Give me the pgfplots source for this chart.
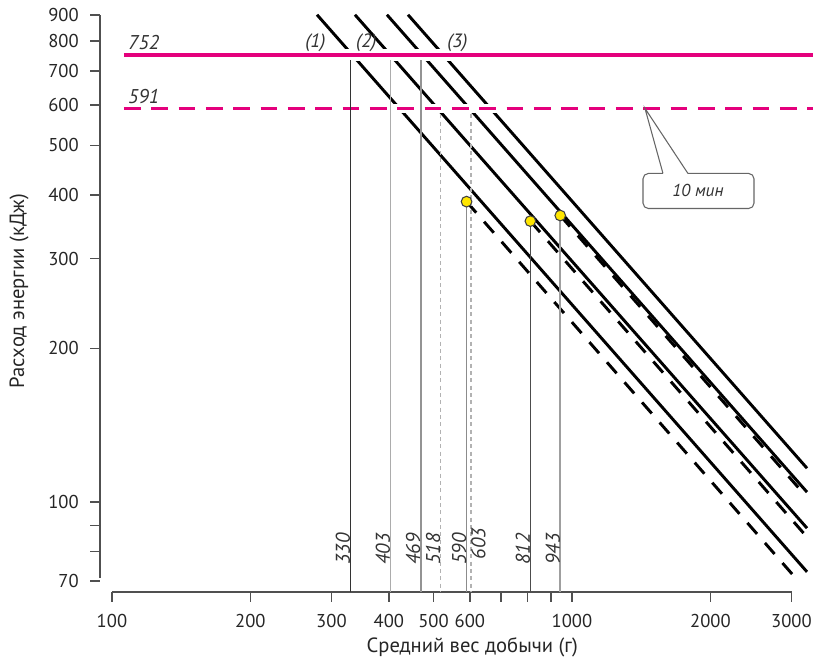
\documentclass[border=0pt]{standalone}
\usepackage{fontspec}
\setmainfont{PT Sans}
\usepackage{pgfplots}
\pgfplotsset{compat=1.18}
\definecolor{mag}{RGB}{228,0,124}
\definecolor{axgray}{RGB}{80,80,80}
\definecolor{dotyellow}{RGB}{255,230,0}
\begin{document}
\begin{tikzpicture}
\begin{axis}[
  scale only axis,
  width=534.75bp, height=432.75bp,
  xmode=log, ymode=log,
  xmin=94.2, xmax=3342, ymin=66.66, ymax=900.5,
  axis x line*=bottom, axis y line*=left,
  separate axis lines,
  axis line style={-, draw=axgray, line width=1.3bp},
  x axis line style={shorten <=9bp, shorten >=15.75bp},
  y axis line style={shorten <=10.5bp},
  tick align=outside,
  major tick length=7.5bp,
  tick style={draw=axgray, line width=1.2bp},
  minor xtick={}, minor ytick={},
  xtick={100,200,300,400,500,600,700,800,900,1000,2000,3000},
  xticklabels={100,200,300,400,500,600,,,,1000,2000,3000},
  ytick={70,80,90,100,200,300,400,500,600,700,800,900},
  yticklabels={70,,,100,200,300,400,500,600,700,800,900},
  /pgf/number format/assume math mode=true,
  ticklabel style={font=\fontsize{14}{16}\selectfont, text=black!85},
  xticklabel style={anchor=base, yshift=-19bp},
  yticklabel style={anchor=east, xshift=-5bp},
  xlabel={Средний вес добычи (г)},
  ylabel={Расход энергии (кДж)},
  label style={font=\fontsize{15.5}{18}\selectfont, text=black!85, inner sep=0pt},
  xlabel style={at={(axis description cs:0.522,0)}, anchor=base, yshift=-45.5bp},
  ylabel style={at={(axis description cs:-0.1066,0.5217)}, anchor=base},
  clip=false,
]
\coordinate (O) at (rel axis cs:0,0);

% solid diagonal lines
\addplot[black, line width=2.2bp] coordinates {(279.1,901.5) (3243,73.0)};
\addplot[black, line width=2.2bp] coordinates {(337.5,901.5) (3243,88.9)};
\addplot[black, line width=2.2bp] coordinates {(396.1,901.5) (3243,104.6)};
\addplot[black, line width=2.2bp] coordinates {(440.1,901.5) (3243,116.5)};
% dashed diagonal lines
\addplot[black, line width=2.2bp, dash pattern=on 11bp off 9bp] coordinates {(590,388) (3131,69.4)};
\addplot[black, line width=2.2bp, dash pattern=on 11bp off 9bp] coordinates {(812,355.3) (3243,85.4)};
\addplot[black, line width=2.2bp, dash pattern=on 11bp off 9bp] coordinates {(943,364.4) (3210,103.2)};

% magenta levels
\addplot[mag, line width=2.4bp, preaction={draw=white, solid, line width=9bp}] coordinates {(106.2,752) (3342,752)};
\addplot[mag, line width=2.6bp, dash pattern=on 12.5bp off 8bp, preaction={draw=white, solid, line width=7bp}] coordinates {(106.2,591) (3342,591)};

% vertical lines
\addplot[black!80, line width=1.1bp] coordinates {(330,735) (330,66.66)};
\addplot[gray!65, line width=1.3bp] coordinates {(403,735) (403,66.66)};
\addplot[gray!85, line width=1.3bp] coordinates {(469,735) (469,66.66)};
\addplot[gray!60, line width=1.1bp, dash pattern=on 3bp off 2.5bp] coordinates {(518,575) (518,66.66)};
\addplot[gray!60, line width=1.1bp, dash pattern=on 3bp off 2.5bp] coordinates {(603,575) (603,66.66)};
\addplot[gray!90, line width=1.3bp] coordinates {(590,388) (590,66.66)};
\addplot[black!70, line width=1.2bp] coordinates {(812,355.3) (812,66.66)};
\addplot[gray!75, line width=1.3bp] coordinates {(943,364.4) (943,66.66)};

% yellow points
\addplot[only marks, mark=*, mark size=4bp, mark options={fill=dotyellow, draw=black!75, line width=0.8bp}] coordinates {(590,388) (812,355.3) (943,364.4)};

% level labels
\node[anchor=south west, inner sep=0pt, font=\itshape\fontsize{15}{17}\selectfont, text=black!80, yshift=3.75bp] at (axis cs:108.3,752) {752};
\node[anchor=south west, inner sep=0pt, font=\itshape\fontsize{15}{17}\selectfont, text=black!80, yshift=3bp] at (axis cs:108.3,591) {591};
\node[anchor=base west, inner sep=0pt, font=\itshape\fontsize{14.5}{17}\selectfont, text=black!80, yshift=5.25bp] at (axis cs:262.8,752) {(1)};
\node[anchor=base west, inner sep=0pt, font=\itshape\fontsize{14.5}{17}\selectfont, text=black!80, yshift=5.25bp] at (axis cs:339.2,752) {(2)};
\node[anchor=base west, inner sep=0pt, font=\itshape\fontsize{14.5}{17}\selectfont, text=black!80, yshift=5.25bp] at (axis cs:535,752) {(3)};

% vertical value labels
\foreach \v in {330,403,469,518,590,812,943}{
  \edef\tmp{\noexpand\node[rotate=90, anchor=south west, inner sep=0pt, font=\noexpand\itshape\noexpand\fontsize{15}{17}\noexpand\selectfont, text=black!80, xshift=-2bp] at (axis cs:\v,76.3) {\v};}\tmp
}
\node[rotate=90, anchor=north west, inner sep=0pt, font=\itshape\fontsize{15}{17}\selectfont, text=black!80, xshift=2bp] at (axis cs:603,76.3) {603};

% callout
\draw[black!60, line width=0.8bp, rounded corners=4bp, fill=white]
  (axis cs:1787,440.5) -- (axis cs:2487,440.5) -- (axis cs:2487,376.1) -- (axis cs:1427,376.1) -- (axis cs:1427,440.5) -- (axis cs:1577,440.5);
\draw[black!60, line width=0.8bp] (axis cs:1577,440.5) -- (axis cs:1441,591) -- (axis cs:1787,440.5);
\node[font=\itshape\fontsize{13}{15}\selectfont, text=black!80] at (axis cs:1879,408) {10 мин};
\end{axis}
\pgfresetboundingbox
\path[use as bounding box] (O) ++(-75bp,-54.75bp) rectangle ++(609.75bp,498.75bp);
\end{tikzpicture}
\end{document}
